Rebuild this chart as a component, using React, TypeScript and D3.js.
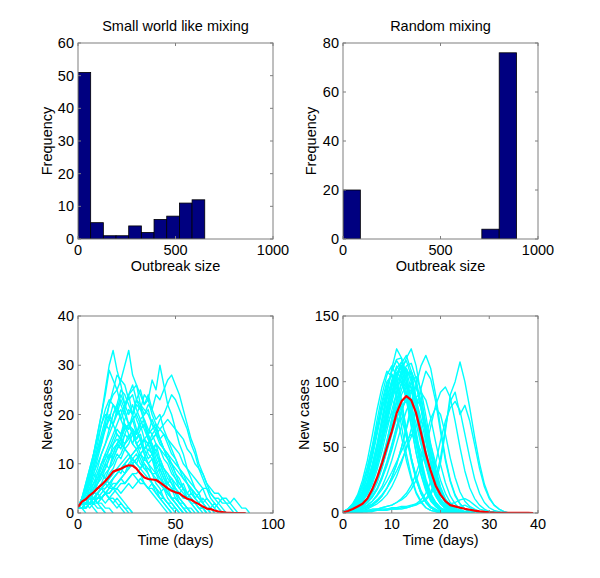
import React from "react";
import * as d3 from "d3";

// ---------- Data ----------
const swBinCounts = [51, 5, 1, 1, 4, 2, 6, 7, 11, 12];
const swBinWidth = 65;
const rmBinCounts = [20, 0, 0, 0, 0, 0, 0, 0, 4, 76];
const rmBinWidth = 89;

const histXTicks = [0, 500, 1000];
const swYTicks = [0, 10, 20, 30, 40, 50, 60];
const rmYTicks = [0, 20, 40, 60, 80];
const swTimeTicks = [0, 50, 100];
const swCaseTicks = [0, 10, 20, 30, 40];
const rmTimeTicks = [0, 10, 20, 30, 40];
const rmCaseTicks = [0, 50, 100, 150];

// Small world runs: values every 2 days starting at t=0
const swStep = 2;
const swRuns: number[][] = [
  [1, 3, 6, 9, 12, 16, 20, 25, 30, 33, 29, 26, 22, 24, 20, 17, 15, 12, 10, 8, 6, 5, 3, 2, 1, 0],
  [1, 2, 4, 6, 8, 11, 14, 18, 22, 25, 28, 27, 30, 33, 28, 26, 22, 18, 16, 13, 10, 8, 6, 4, 3, 2, 1, 0],
  [1, 1, 2, 3, 4, 6, 7, 9, 11, 13, 14, 16, 18, 17, 20, 22, 21, 24, 23, 27, 25, 30, 26, 22, 20, 17, 14, 12, 9, 7, 5, 4, 2, 1, 0],
  [1, 1, 2, 2, 3, 4, 5, 6, 8, 9, 11, 12, 14, 15, 17, 16, 19, 20, 22, 21, 24, 23, 25, 27, 28, 26, 24, 21, 18, 15, 13, 10, 8, 6, 4, 3, 2, 1, 0],
  [1, 2, 4, 7, 10, 13, 16, 19, 22, 24, 25, 27, 26, 23, 24, 21, 19, 17, 15, 14, 11, 9, 7, 5, 3, 2, 1, 0],
  [1, 2, 2, 3, 5, 6, 8, 9, 11, 12, 14, 15, 17, 18, 19, 20, 18, 19, 17, 16, 14, 13, 11, 10, 8, 7, 6, 5, 4, 3, 2, 1, 1, 0],
  [1, 3, 5, 8, 11, 14, 18, 21, 23, 22, 20, 21, 18, 16, 14, 13, 11, 9, 8, 6, 5, 3, 2, 1, 0],
  [1, 1, 2, 2, 3, 3, 4, 5, 6, 7, 8, 9, 10, 11, 12, 13, 14, 15, 16, 17, 18, 17, 16, 15, 14, 13, 12, 10, 9, 8, 7, 6, 5, 5, 4, 3, 3, 2, 2, 1, 0],
  [1, 1, 1, 2, 2, 3, 3, 4, 5, 5, 6, 7, 8, 9, 10, 11, 12, 13, 14, 15, 16, 17, 18, 19, 18, 17, 16, 15, 13, 12, 10, 9, 8, 6, 5, 4, 4, 3, 2, 2, 3, 2, 1, 1, 0],
  [1, 2, 3, 5, 7, 9, 12, 14, 17, 20, 22, 25, 24, 22, 20, 23, 21, 19, 16, 14, 12, 10, 8, 6, 5, 3, 2, 1, 0],
  [1, 2, 3, 4, 6, 8, 10, 11, 13, 14, 15, 14, 13, 12, 11, 10, 9, 8, 7, 6, 5, 4, 3, 2, 1, 1, 0],
  [1, 1, 2, 3, 3, 4, 5, 6, 7, 8, 9, 10, 11, 12, 11, 12, 10, 9, 9, 8, 7, 6, 5, 4, 3, 3, 2, 1, 1, 0],
  [1, 1, 2, 3, 4, 5, 6, 8, 9, 11, 13, 14, 16, 18, 19, 20, 22, 21, 20, 18, 17, 15, 13, 12, 10, 8, 7, 5, 4, 3, 2, 1, 0],
  [1, 2, 3, 4, 6, 8, 10, 12, 14, 16, 18, 20, 22, 24, 25, 26, 24, 22, 23, 20, 18, 15, 13, 11, 9, 7, 5, 4, 3, 2, 1, 0],
  [1, 3, 6, 9, 12, 15, 18, 20, 19, 18, 16, 15, 13, 12, 10, 9, 8, 6, 5, 4, 3, 2, 1, 0],
  [1, 2, 2, 3, 3, 4, 5, 4, 5, 6, 6, 7, 6, 7, 8, 7, 6, 6, 5, 5, 4, 3, 3, 2, 2, 1, 0],
  [1, 2, 1, 2, 1, 0],
  [1, 1, 2, 3, 2, 2, 1, 0],
  [1, 2, 3, 4, 3, 2, 2, 1, 1, 0],
  [1, 1, 0],
  [1, 2, 2, 3, 4, 4, 5, 4, 3, 3, 2, 1, 0],
  [1, 3, 4, 5, 6, 7, 8, 7, 6, 5, 4, 3, 2, 1, 0],
  [1, 1, 1, 2, 2, 3, 3, 4, 4, 5, 5, 6, 6, 7, 8, 8, 9, 10, 9, 8, 8, 7, 6, 6, 5, 5, 4, 3, 3, 2, 2, 1, 1, 0],
  [1, 1, 2, 2, 3, 4, 5, 5, 6, 7, 8, 9, 10, 11, 12, 13, 14, 15, 14, 15, 16, 14, 13, 12, 11, 10, 9, 8, 7, 6, 5, 4, 5, 3, 2, 1, 2, 3, 3, 2, 1, 0],
  [1, 3, 5, 8, 12, 16, 20, 24, 29, 27, 25, 22, 20, 18, 16, 14, 12, 10, 8, 6, 4, 3, 2, 1, 0],
  [1, 1, 1, 2, 2, 3, 3, 4, 4, 5, 6, 7, 8, 9, 10, 11, 12, 13, 14, 16, 17, 19, 20, 22, 24, 23, 21, 19, 17, 14, 12, 9, 7, 5, 3, 2, 1, 0],
  [1, 2, 4, 5, 8, 7, 10, 12, 11, 14, 16, 15, 18, 17, 19, 16, 18, 15, 14, 12, 13, 10, 9, 7, 6, 4, 3, 2, 1, 0],
  [1, 2, 3, 5, 4, 6, 8, 10, 9, 12, 14, 13, 16, 15, 17, 14, 13, 15, 12, 11, 9, 10, 8, 6, 5, 4, 2, 1, 0],
  [1, 3, 5, 7, 10, 13, 15, 18, 17, 20, 22, 19, 21, 18, 17, 15, 16, 13, 11, 12, 9, 7, 6, 4, 3, 2, 1, 0],
  [1, 1, 2, 3, 2, 4, 5, 6, 5, 7, 8, 9, 8, 10, 11, 10, 12, 11, 13, 12, 14, 13, 12, 11, 10, 9, 8, 7, 6, 5, 4, 3, 2, 1, 1, 0],
  [1, 2, 4, 6, 9, 12, 14, 17, 19, 22, 21, 24, 22, 20, 22, 19, 17, 18, 15, 13, 14, 11, 9, 8, 6, 5, 3, 2, 1, 0],
  [1, 2, 3, 3, 5, 6, 8, 7, 9, 10, 12, 11, 13, 14, 16, 15, 17, 18, 16, 19, 17, 15, 16, 14, 12, 11, 9, 8, 6, 5, 4, 3, 2, 1, 0],
  [1, 1, 2, 2, 3, 2, 3, 4, 3, 4, 5, 4, 5, 6, 5, 6, 7, 6, 5, 6, 5, 4, 5, 4, 3, 3, 2, 2, 1, 1, 0],
  [1, 2, 3, 2, 3, 4, 3, 2, 3, 2, 1, 2, 1, 0],
  [1, 2, 1, 2, 3, 2, 3, 4, 3, 2, 3, 2, 1, 1, 0],
  [1, 1, 2, 1, 2, 1, 1, 0],
  [1, 3, 4, 6, 8, 10, 12, 14, 16, 18, 20, 23, 21, 24, 26, 23, 22, 20, 21, 18, 16, 15, 13, 11, 10, 8, 6, 5, 3, 2, 1, 0],
  [1, 2, 3, 4, 5, 7, 9, 11, 13, 15, 17, 16, 19, 21, 20, 23, 25, 22, 24, 21, 19, 20, 17, 15, 13, 11, 9, 7, 6, 4, 3, 2, 1, 0],
  [1, 1, 2, 3, 4, 5, 5, 6, 7, 8, 9, 8, 10, 9, 11, 10, 9, 11, 10, 9, 8, 9, 7, 6, 7, 5, 4, 5, 3, 4, 3, 2, 3, 2, 1, 2, 1, 0],
  [1, 2, 4, 7, 9, 12, 15, 17, 20, 18, 21, 19, 17, 18, 16, 14, 15, 12, 10, 11, 8, 6, 5, 3, 2, 1, 0],
  [1, 2, 2, 4, 5, 7, 8, 10, 12, 11, 13, 15, 14, 16, 14, 17, 15, 13, 14, 12, 10, 11, 9, 8, 7, 6, 5, 6, 4, 5, 3, 4, 2, 3, 2, 1, 0],
];
const swMean = [1.2, 2.3, 2.8, 3.6, 4.2, 5.0, 5.7, 6.5, 7.4, 8.4, 8.7, 9.0, 9.4, 9.7, 9.6, 9.0, 8.0, 7.2, 6.9, 6.8, 6.7, 6.2, 5.6, 5.0, 4.5, 4.2, 4.0, 3.4, 2.9, 2.7, 2.2, 1.8, 1.3, 0.9, 0.8, 0.5, 0.3, 0.2, 0.1, 0.05, 0, 0, 0, 0];

// Random mixing runs: daily values starting at t=0
const rmStep = 1;
const rmRuns: number[][] = [
  [1, 2, 4, 7, 12, 20, 32, 48, 68, 90, 110, 125, 118, 100, 78, 55, 36, 22, 13, 8, 4, 2, 1, 1, 0],
  [1, 1, 2, 4, 7, 11, 17, 26, 38, 54, 72, 92, 108, 118, 125, 112, 90, 66, 45, 28, 16, 9, 5, 3, 1, 1, 0],
  [1, 2, 3, 6, 10, 16, 26, 40, 58, 78, 96, 110, 115, 105, 85, 62, 42, 26, 15, 8, 4, 2, 1, 0],
  [1, 3, 6, 11, 19, 31, 47, 66, 85, 100, 105, 95, 78, 58, 40, 25, 15, 8, 4, 2, 1, 0],
  [1, 1, 2, 4, 6, 10, 16, 25, 37, 52, 68, 84, 100, 110, 102, 85, 63, 43, 27, 16, 9, 5, 2, 1, 0],
  [1, 1, 1, 2, 3, 4, 6, 9, 13, 19, 27, 37, 50, 65, 82, 98, 112, 120, 110, 90, 65, 42, 25, 14, 7, 3, 1, 0],
  [1, 1, 1, 2, 2, 3, 5, 7, 10, 14, 20, 28, 38, 50, 64, 80, 95, 108, 102, 85, 62, 40, 24, 13, 7, 3, 1, 0],
  [1, 1, 1, 1, 1, 2, 2, 2, 3, 3, 4, 4, 5, 5, 6, 7, 8, 10, 14, 22, 38, 62, 90, 100, 115, 100, 80, 58, 38, 22, 12, 6, 3, 1, 0],
  [1, 1, 1, 1, 1, 1, 2, 2, 2, 3, 3, 3, 4, 4, 5, 6, 8, 11, 16, 26, 42, 65, 85, 92, 75, 82, 70, 52, 34, 20, 11, 6, 3, 1, 0],
  [0, 1, 1, 1, 1, 1, 1, 2, 2, 2, 3, 3, 3, 4, 5, 7, 10, 15, 24, 38, 55, 70, 80, 85, 78, 60, 42, 26, 15, 8, 4, 2, 1, 0],
  [1, 1, 2, 3, 4, 6, 9, 13, 18, 24, 31, 39, 47, 55, 60, 56, 47, 36, 25, 16, 10, 6, 3, 2, 1, 0],
  [1, 3, 7, 13, 22, 35, 50, 66, 80, 90, 88, 75, 58, 40, 26, 15, 8, 4, 2, 1, 0],
  [1, 2, 4, 7, 12, 19, 29, 42, 58, 74, 88, 98, 100, 90, 72, 52, 34, 20, 11, 6, 3, 1, 0],
  [1, 2, 4, 8, 14, 23, 36, 52, 72, 92, 108, 117, 118, 106, 84, 60, 39, 23, 13, 7, 3, 2, 1, 0],
  [1, 1, 2, 3, 5, 8, 13, 19, 28, 39, 52, 66, 78, 88, 94, 95, 86, 68, 48, 31, 18, 10, 5, 2, 1, 0],
  [1, 2, 4, 7, 12, 19, 28, 40, 54, 67, 76, 80, 72, 58, 42, 28, 17, 10, 5, 3, 1, 0],
  [1, 3, 6, 12, 21, 34, 51, 71, 90, 105, 112, 104, 86, 63, 42, 26, 15, 8, 4, 2, 1, 0],
  [1, 1, 2, 2, 3, 5, 7, 10, 14, 19, 25, 32, 40, 49, 58, 66, 70, 64, 52, 38, 25, 15, 8, 4, 2, 1, 0],
  [1, 1, 2, 3, 5, 8, 12, 18, 27, 38, 51, 65, 78, 88, 92, 86, 72, 54, 37, 23, 14, 9, 7, 8, 10, 11, 9, 6, 3, 2, 1, 1, 0],
  [0, 1, 1, 1, 2, 2, 3, 3, 4, 5, 6, 8, 11, 15, 21, 30, 42, 58, 72, 80, 75, 60, 42, 27, 16, 9, 5, 3, 1, 0],
  [1, 3, 7, 14, 25, 40, 59, 79, 96, 108, 104, 88, 66, 45, 28, 16, 9, 4, 2, 1, 0],
  [1, 1, 2, 4, 7, 11, 17, 25, 35, 47, 60, 72, 81, 85, 80, 68, 52, 37, 24, 15, 9, 5, 3, 2, 1, 1, 1, 1, 0, 0, 1, 1, 0, 0, 0, 0, 0, 0, 0, 0],
  [1, 2, 3, 6, 10, 16, 25, 37, 52, 68, 84, 98, 108, 110, 100, 80, 58, 38, 23, 13, 7, 3, 1, 0],
  [1, 2, 5, 9, 15, 24, 37, 53, 71, 88, 101, 107, 103, 88, 67, 46, 29, 17, 9, 5, 2, 1, 0],
  [1, 2, 5, 9, 16, 27, 42, 60, 78, 95, 108, 116, 110, 96, 76, 55, 37, 23, 13, 7, 3, 1, 0],
  [1, 2, 3, 6, 10, 17, 27, 41, 58, 76, 92, 106, 114, 120, 108, 88, 64, 43, 27, 16, 9, 4, 2, 1, 0],
  [1, 1, 3, 5, 9, 15, 24, 36, 52, 70, 88, 102, 112, 116, 104, 84, 62, 42, 26, 15, 8, 4, 2, 1, 0],
  [1, 2, 4, 8, 13, 22, 34, 50, 68, 86, 100, 112, 106, 92, 74, 54, 36, 22, 13, 7, 3, 1, 0],
  [1, 1, 2, 3, 6, 9, 15, 23, 34, 48, 64, 80, 94, 104, 108, 98, 80, 58, 39, 24, 14, 8, 4, 2, 1, 0],
  [1, 2, 4, 6, 11, 18, 28, 42, 60, 80, 98, 106, 112, 100, 80, 58, 38, 24, 14, 8, 4, 2, 1, 0],
  [1, 1, 2, 3, 5, 8, 12, 18, 26, 36, 48, 62, 76, 90, 100, 104, 94, 74, 52, 34, 20, 11, 6, 3, 1, 0],
  [1, 3, 5, 10, 17, 28, 44, 62, 82, 98, 106, 100, 84, 62, 42, 26, 15, 8, 4, 2, 1, 0],
  [1, 1, 2, 4, 6, 10, 16, 24, 35, 48, 63, 78, 90, 98, 96, 84, 66, 47, 31, 19, 11, 6, 3, 1, 0],
  [1, 2, 3, 5, 9, 14, 22, 33, 47, 63, 78, 92, 104, 112, 114, 102, 82, 60, 40, 25, 14, 8, 4, 2, 1, 0],
  [1, 1, 1, 2, 3, 4, 6, 9, 13, 19, 27, 37, 50, 64, 78, 88, 92, 86, 72, 54, 37, 23, 13, 7, 3, 1, 0],
  [1, 2, 4, 7, 12, 20, 31, 46, 64, 82, 96, 104, 100, 86, 66, 46, 30, 18, 10, 5, 2, 1, 0],
  [1, 1, 2, 4, 7, 11, 18, 27, 40, 55, 71, 86, 98, 106, 108, 98, 80, 59, 40, 25, 15, 8, 4, 2, 1, 0],
  [0, 1, 1, 1, 1, 2, 2, 3, 4, 5, 6, 8, 10, 13, 18, 25, 35, 50, 66, 82, 92, 96, 88, 70, 50, 32, 19, 11, 6, 3, 1, 0],
  [1, 1, 2, 3, 4, 6, 9, 14, 20, 29, 40, 53, 66, 78, 86, 88, 80, 64, 46, 30, 18, 10, 6, 4, 5, 6, 4, 2, 1, 0],
  [1, 2, 3, 6, 10, 16, 25, 38, 54, 72, 90, 104, 112, 108, 94, 74, 54, 36, 22, 13, 7, 4, 2, 1, 0],
];
const rmMean = [0.5, 1.5, 3, 5, 7, 11, 18, 27, 38, 50, 62, 76, 85, 89, 86, 76, 61, 45, 32, 21, 14, 9, 6, 5, 4, 3.2, 2.5, 1.8, 1.2, 0.8, 0.5, 0.3, 0.2, 0.15, 0.1, 0.1, 0.05, 0.03, 0.02, 0];

// ---------- Layout ----------
const FONT = "'Liberation Sans', Arial, Helvetica, sans-serif";
const AXIS_COLOR = "#7f7f7f";
const FS = 14.5;
const colLeft = [78, 273];
const colRight = [343, 538];
const rowTop = [43, 239];
const rowBottom = [316, 513];

type Frame = {
  x0: number; x1: number; y0: number; y1: number;
  xDomain: [number, number]; yDomain: [number, number];
  xTicks: number[]; yTicks: number[];
  xLabel: string; yLabel: string; title?: string;
  yLabelX: number;
};

function Axes({ f, children }: { f: Frame; children: (x: d3.ScaleLinear<number, number>, y: d3.ScaleLinear<number, number>) => React.ReactNode }) {
  const x = d3.scaleLinear().domain(f.xDomain).range([f.x0, f.x1]);
  const y = d3.scaleLinear().domain(f.yDomain).range([f.y1, f.y0]);
  const tl = 3;
  return (
    <g>
      <clipPath id={`clip-${f.x0}-${f.y0}`}>
        <rect x={f.x0} y={f.y0} width={f.x1 - f.x0} height={f.y1 - f.y0} />
      </clipPath>
      <g clipPath={`url(#clip-${f.x0}-${f.y0})`}>{children(x, y)}</g>
      <rect x={f.x0} y={f.y0} width={f.x1 - f.x0} height={f.y1 - f.y0} fill="none" stroke={AXIS_COLOR} strokeWidth={1} />
      {f.xTicks.map((t) => (
        <g key={"x" + t}>
          <line x1={x(t)} x2={x(t)} y1={f.y1} y2={f.y1 - tl} stroke={AXIS_COLOR} />
          <line x1={x(t)} x2={x(t)} y1={f.y0} y2={f.y0 + tl} stroke={AXIS_COLOR} />
          <text x={x(t)} y={f.y1 + 16} textAnchor="middle" fontSize={FS} fontFamily={FONT} fill="#000">{t}</text>
        </g>
      ))}
      {f.yTicks.map((t) => (
        <g key={"y" + t}>
          <line x1={f.x0} x2={f.x0 + tl} y1={y(t)} y2={y(t)} stroke={AXIS_COLOR} />
          <line x1={f.x1} x2={f.x1 - tl} y1={y(t)} y2={y(t)} stroke={AXIS_COLOR} />
          <text x={f.x0 - 4} y={y(t) + 5} textAnchor="end" fontSize={FS} fontFamily={FONT} fill="#000">{t}</text>
        </g>
      ))}
      <text x={(f.x0 + f.x1) / 2} y={f.y1 + 32} textAnchor="middle" fontSize={FS} fontFamily={FONT} fill="#000">{f.xLabel}</text>
      <text transform={`translate(${f.yLabelX},${(f.y0 + f.y1) / 2}) rotate(-90)`} textAnchor="middle" fontSize={FS} fontFamily={FONT} fill="#000">{f.yLabel}</text>
      {f.title && (
        <text x={(f.x0 + f.x1) / 2} y={f.y0 - 12} textAnchor="middle" fontSize={FS} fontFamily={FONT} fill="#000">{f.title}</text>
      )}
    </g>
  );
}

function Hist({ f, counts, width }: { f: Frame; counts: number[]; width: number }) {
  return (
    <Axes f={f}>
      {(x, y) =>
        counts.map((c, i) =>
          c > 0 ? (
            <rect key={i} x={x(i * width)} y={y(c)} width={x((i + 1) * width) - x(i * width)} height={y(0) - y(c)} fill="#000080" stroke="#000" strokeWidth={0.8} />
          ) : null
        )
      }
    </Axes>
  );
}

function Runs({ f, runs, mean, step }: { f: Frame; runs: number[][]; mean: number[]; step: number }) {
  return (
    <Axes f={f}>
      {(x, y) => {
        const line = d3.line<number>().x((_, i) => x(i * step)).y((d) => y(d));
        return (
          <g>
            {runs.map((r, i) => (
              <path key={i} d={line(r) || ""} fill="none" stroke="#00ffff" strokeWidth={1.4} strokeLinejoin="round" />
            ))}
            <path d={line(mean) || ""} fill="none" stroke="#ff0000" strokeWidth={2.2} strokeLinejoin="round" />
          </g>
        );
      }}
    </Axes>
  );
}

export default function App() {
  const fTL: Frame = { x0: colLeft[0], x1: colLeft[1], y0: rowTop[0], y1: rowTop[1], xDomain: [0, 1000], yDomain: [0, 60], xTicks: histXTicks, yTicks: swYTicks, xLabel: "Outbreak size", yLabel: "Frequency", title: "Small world like mixing", yLabelX: 52 };
  const fTR: Frame = { x0: colRight[0], x1: colRight[1], y0: rowTop[0], y1: rowTop[1], xDomain: [0, 1000], yDomain: [0, 80], xTicks: histXTicks, yTicks: rmYTicks, xLabel: "Outbreak size", yLabel: "Frequency", title: "Random mixing", yLabelX: 316 };
  const fBL: Frame = { x0: colLeft[0], x1: colLeft[1], y0: rowBottom[0], y1: rowBottom[1], xDomain: [0, 100], yDomain: [0, 40], xTicks: swTimeTicks, yTicks: swCaseTicks, xLabel: "Time (days)", yLabel: "New cases", yLabelX: 52 };
  const fBR: Frame = { x0: colRight[0], x1: colRight[1], y0: rowBottom[0], y1: rowBottom[1], xDomain: [0, 40], yDomain: [0, 150], xTicks: rmTimeTicks, yTicks: rmCaseTicks, xLabel: "Time (days)", yLabel: "New cases", yLabelX: 309 };
  return (
    <svg width={600} height={578} style={{ position: "absolute", left: 0, top: 0, background: "#fff" }}>
      <rect x={0} y={0} width={600} height={578} fill="#fff" />
      <Hist f={fTL} counts={swBinCounts} width={swBinWidth} />
      <Hist f={fTR} counts={rmBinCounts} width={rmBinWidth} />
      <Runs f={fBL} runs={swRuns} mean={swMean} step={swStep} />
      <Runs f={fBR} runs={rmRuns} mean={rmMean} step={rmStep} />
    </svg>
  );
}
